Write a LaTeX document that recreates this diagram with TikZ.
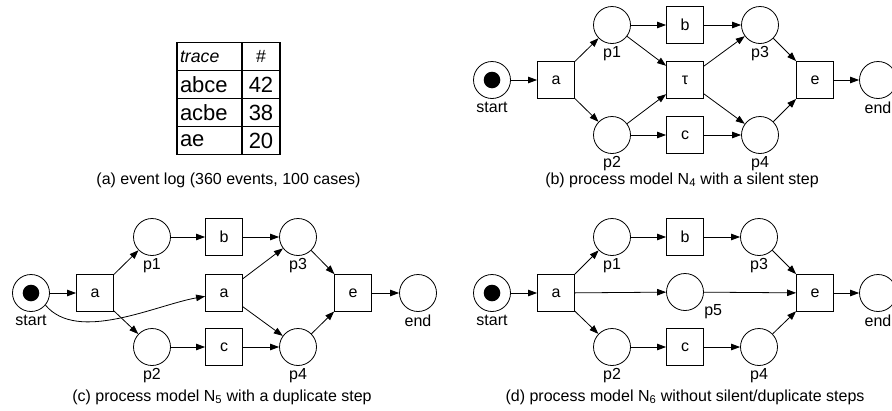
\documentclass[tikz,border=0pt]{standalone}
\usepackage{fontspec}
\setmainfont{Liberation Sans}
\usetikzlibrary{arrows.meta,positioning,matrix}

\tikzset{
  place/.style={circle, draw, minimum size=37pt, inner sep=0pt},
  marked/.style={place, path picture={\fill (path picture bounding box.center) circle (8.3pt);}},
  transition/.style={rectangle, draw, minimum size=37pt, inner sep=0pt},
  arc/.style={-{Triangle[length=9pt,width=6.5pt]}},
  caption/.style={inner sep=0pt},
}

\begin{document}
\begin{tikzpicture}[x=1pt, y=-1pt, line width=0.8pt,
    font=\fontsize{16}{19}\selectfont,
    every label/.style={inner sep=2.5pt}]
  \useasboundingbox (0,0) rectangle (892,410);

  % (a) event log
  \matrix (log) at (228.5,98.5) [matrix of nodes,
      column sep=-1.2pt, row sep=-1.2pt,
      nodes={draw, line width=1.2pt, anchor=center, minimum height=28pt, inner ysep=0pt,
        font=\fontsize{22}{22}\selectfont},
      column 1/.style={nodes={text width=59pt, align=left, inner xsep=3pt}},
      column 2/.style={nodes={minimum width=38pt, inner xsep=0pt}}]
  {
    |[font=\fontsize{17.7}{18}\selectfont\itshape]| trace & |[font=\fontsize{17.7}{18}\selectfont]| \# \\
    abce & 42 \\
    acbe & 38 \\
    ae   & 20 \\
  };
  \node [caption] (cap-a) at (228.5,180) {(a) event log (360 events, 100 cases)};

  % (b) process model with a silent step
  \begin{scope}[shift={(492,80)}]
    \node [marked, label=below:start] (b-s) at (0,0) {};
    \node [transition] (b-a) at (64,0) {a};
    \node [place, label=below:p1] (b-p1) at (120,-55) {};
    \node [place, label=below:p2] (b-p2) at (120,55) {};
    \node [transition] (b-b) at (193,-55) {b};
    \node [transition] (b-t) at (193,0) {τ};
    \node [transition] (b-c) at (193,55) {c};
    \node [place, label=below:p3] (b-p3) at (268,-55) {};
    \node [place, label=below:p4] (b-p4) at (268,55) {};
    \node [transition] (b-e) at (323,0) {e};
    \node [place, label=below:end] (b-end) at (386,0) {};
  \end{scope}
  \draw [arc] (b-s) -- (b-a);
  \draw [arc] (b-a) -- (b-p1);
  \draw [arc] (b-a) -- (b-p2);
  \draw [arc] (b-p1) -- (b-b);
  \draw [arc] (b-p1) -- (b-t);
  \draw [arc] (b-p2) -- (b-t);
  \draw [arc] (b-p2) -- (b-c);
  \draw [arc] (b-b) -- (b-p3);
  \draw [arc] (b-t) -- (b-p3);
  \draw [arc] (b-t) -- (b-p4);
  \draw [arc] (b-c) -- (b-p4);
  \draw [arc] (b-p3) -- (b-e);
  \draw [arc] (b-p4) -- (b-e);
  \draw [arc] (b-e) -- (b-end);
  \node [caption] (cap-b) at (682,180) {(b) process model N\textsubscript{4} with a silent step};

  % (c) process model with a duplicate step
  \begin{scope}[shift={(31,293)}]
    \node [marked, label=below:start] (c-s) at (0,0) {};
    \node [transition] (c-a) at (64,0) {a};
    \node [place, label=below:p1] (c-p1) at (121,-56) {};
    \node [place, label=below:p2] (c-p2) at (121,54) {};
    \node [transition] (c-b) at (193,-56) {b};
    \node [transition] (c-a2) at (193,0) {a};
    \node [transition] (c-c) at (193,54) {c};
    \node [place, label=below:p3] (c-p3) at (267,-56) {};
    \node [place, label=below:p4] (c-p4) at (267,54) {};
    \node [transition] (c-e) at (322,0) {e};
    \node [place, label=below:end] (c-end) at (387,0) {};
  \end{scope}
  \draw [arc] (c-s) -- (c-a);
  \draw [arc] (c-a) -- (c-p1);
  \draw [arc] (c-a) -- (c-p2);
  \draw [arc] (c-p1) -- (c-b);
  \draw [arc] (c-p2) -- (c-c);
  \draw [arc] (c-b) -- (c-p3);
  \draw [arc] (c-a2) -- (c-p3);
  \draw [arc] (c-a2) -- (c-p4);
  \draw [arc] (c-c) -- (c-p4);
  \draw [arc] (c-p3) -- (c-e);
  \draw [arc] (c-p4) -- (c-e);
  \draw [arc] (c-e) -- (c-end);
  \draw [arc] (c-s.-40) to [out=-50, in=190, looseness=0.8] (c-a2);
  \node [caption] (cap-c) at (222,397) {(c) process model N\textsubscript{5} with a duplicate step};

  % (d) process model without silent/duplicate steps
  \begin{scope}[shift={(492,293)}]
    \node [marked, label=below:start] (d-s) at (0,0) {};
    \node [transition] (d-a) at (64,0) {a};
    \node [place, label=below:p1] (d-p1) at (120,-56) {};
    \node [place, label=below:p2] (d-p2) at (120,54) {};
    \node [transition] (d-b) at (193,-56) {b};
    \node [place, label={-30:p5}] (d-p5) at (193,-1) {};
    \node [transition] (d-c) at (193,54) {c};
    \node [place, label=below:p3] (d-p3) at (267,-56) {};
    \node [place, label=below:p4] (d-p4) at (267,54) {};
    \node [transition] (d-e) at (323,0) {e};
    \node [place, label=below:end] (d-end) at (386,0) {};
  \end{scope}
  \draw [arc] (d-s) -- (d-a);
  \draw [arc] (d-a) -- (d-p1);
  \draw [arc] (d-a) -- (d-p5);
  \draw [arc] (d-a) -- (d-p2);
  \draw [arc] (d-p1) -- (d-b);
  \draw [arc] (d-p2) -- (d-c);
  \draw [arc] (d-b) -- (d-p3);
  \draw [arc] (d-c) -- (d-p4);
  \draw [arc] (d-p5) -- (d-e);
  \draw [arc] (d-p3) -- (d-e);
  \draw [arc] (d-p4) -- (d-e);
  \draw [arc] (d-e) -- (d-end);
  \node [caption] (cap-d) at (685,397) {(d) process model N\textsubscript{6} without silent/duplicate steps};
\end{tikzpicture}
\end{document}
